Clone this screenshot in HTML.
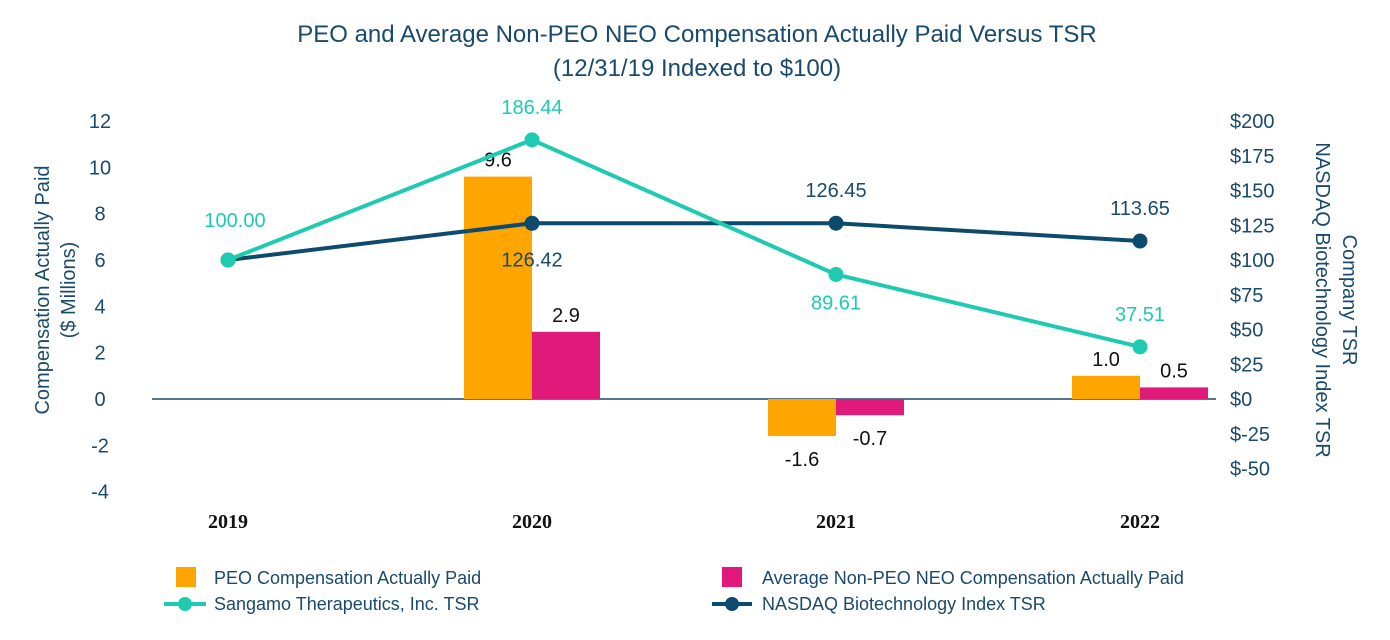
<!DOCTYPE html>
<html><head><meta charset="utf-8"><style>
body{margin:0;background:#fff;}
svg{display:block;font-family:"Liberation Sans",sans-serif;}
</style></head><body>
<svg id="chart" width="1390" height="640" viewBox="0 0 1390 640" xmlns="http://www.w3.org/2000/svg">
<text x="697" y="42" text-anchor="middle" font-size="24" fill="#1a4a6b">PEO and Average Non-PEO NEO Compensation Actually Paid Versus TSR</text>
<text x="697" y="76" text-anchor="middle" font-size="24" fill="#1a4a6b">(12/31/19 Indexed to $100)</text>
<g id="axes"></g><g id="marks"></g>
<text transform="translate(49,290) rotate(-90)" text-anchor="middle" font-size="20" fill="#1a4a6b">Compensation Actually Paid</text>
<text transform="translate(75,290) rotate(-90)" text-anchor="middle" font-size="20" fill="#1a4a6b">($ Millions)</text>
<text transform="translate(1343,300) rotate(90)" text-anchor="middle" font-size="20" fill="#1a4a6b">Company TSR</text>
<text transform="translate(1316,300) rotate(90)" text-anchor="middle" font-size="20" fill="#1a4a6b">NASDAQ Biotechnology Index TSR</text>
<g>
<rect x="176" y="567" width="20" height="20" fill="#FFA500"/>
<text x="214" y="584" font-size="18" fill="#1a4a6b">PEO Compensation Actually Paid</text>
<rect x="722" y="567" width="20" height="20" fill="#E0197A"/>
<text x="762" y="584" font-size="18" fill="#1a4a6b">Average Non-PEO NEO Compensation Actually Paid</text>
<line x1="164" y1="604" x2="206" y2="604" stroke="#1ECBB0" stroke-width="4"/>
<circle cx="185" cy="604" r="7" fill="#1ECBB0"/>
<text x="214" y="610" font-size="18" fill="#1a4a6b">Sangamo Therapeutics, Inc. TSR</text>
<line x1="712" y1="604" x2="752" y2="604" stroke="#0C4A6E" stroke-width="4"/>
<circle cx="732" cy="604" r="7" fill="#0C4A6E"/>
<text x="762" y="610" font-size="18" fill="#1a4a6b">NASDAQ Biotechnology Index TSR</text>
</g>
</svg>
<script>
const categories = ["2019","2020","2021","2022"];
const peoValues = [null, 9.6, -1.6, 1.0];
const neoValues = [null, 2.9, -0.7, 0.5];
const sangamoTSR = [100.00, 186.44, 89.61, 37.51];
const nasdaqTSR = [100.00, 126.42, 126.45, 113.65];
const leftTicks = [12,10,8,6,4,2,0,-2,-4];
const rightTicks = [200,175,150,125,100,75,50,25,0,-25,-50];

const NS="http://www.w3.org/2000/svg";
const yL = v => 399 - v*(278/12);
const yR = v => 399 - v*(278/200);
const xC = i => 228 + i*304;
function mk(tag, attrs, parent, text){const e=document.createElementNS(NS,tag);for(const k in attrs)e.setAttribute(k,attrs[k]);if(text!==undefined)e.textContent=text;parent.appendChild(e);return e;}
const axes=document.getElementById('axes'), marks=document.getElementById('marks');

leftTicks.forEach(t=>{const e=mk('text',{x:100,y:yL(t)+7,'text-anchor':'middle','font-size':20,fill:'#1a4a6b'},axes,String(t));

});
rightTicks.forEach(t=>{const e=mk('text',{x:1230,y:yR(t)+7,'font-size':20,fill:'#1a4a6b'},axes,'$'+t);

});
const zl=mk('line',{x1:152,x2:1216,y1:yL(0),y2:yL(0),stroke:'#1a4a6b','stroke-width':1.5},axes);


categories.forEach((c,i)=>{const e=mk('text',{x:xC(i),y:528,'text-anchor':'middle','font-size':20,'font-weight':'bold','font-family':'Liberation Serif, serif',fill:'#111'},axes,c);

});

const bw=68;
function bars(vals,off,color,name,labelDx){
 vals.forEach((v,i)=>{if(v===null)return;
  const x=xC(i)+off, y0=yL(0), y1=yL(v);
  const r=mk('rect',{x:x,y:Math.min(y0,y1),width:bw,height:Math.abs(y1-y0),fill:color},marks);
  
  
  const ly = v>=0 ? y1-10 : y1+30;
  const t=mk('text',{x:x+bw/2+labelDx,y:ly,'text-anchor':'middle','font-size':20,fill:'#111'},marks,v.toFixed(1));
  
  
 });}
bars(peoValues,-bw,'#FFA500','peo',0);
bars(neoValues,0,'#E0197A','neo',0);

function line(vals,color,name){
 const pts=vals.map((v,i)=>xC(i)+','+yR(v)).join(' ');
 const l=mk('polyline',{points:pts,fill:'none',stroke:color,'stroke-width':4},marks);
 
 
 vals.forEach((v,i)=>{const c=mk('circle',{cx:xC(i),cy:yR(v),r:7.5,fill:color},marks);
  
  });
}
line(nasdaqTSR,'#0C4A6E','nasdaq');
line(sangamoTSR,'#1ECBB0','sangamo');

// value labels for lines
const sangOff=[-33,-26,35,-26];
sangamoTSR.forEach((v,i)=>{const t=mk('text',{x:xC(i)-(i===0?-7:0),y:yR(v)+sangOff[i],'text-anchor':'middle','font-size':20,fill:'#1ECBB0'},marks,v.toFixed(2));
 
 });
const nasOff=[null,43,-26,-26];
nasdaqTSR.forEach((v,i)=>{if(nasOff[i]===null)return;const t=mk('text',{x:xC(i),y:yR(v)+nasOff[i],'text-anchor':'middle','font-size':20,fill:'#1a4a6b'},marks,v.toFixed(2));
 
 });
</script>
</body></html>
